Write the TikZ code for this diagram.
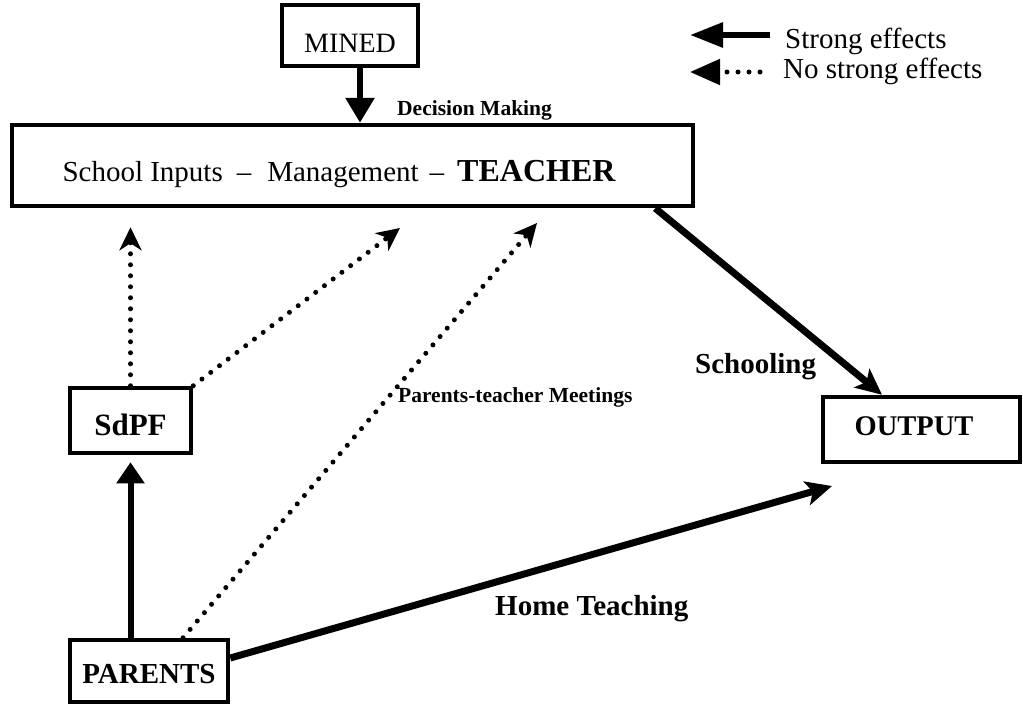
\documentclass[tikz,border=0pt]{standalone}
\usepackage{fontspec}
\setmainfont{Liberation Serif}
\usetikzlibrary{arrows.meta,calc}
\begin{document}
\begin{tikzpicture}[x=1pt,y=-1pt,
  box/.style={draw, rectangle, line width=4.5pt, inner sep=0pt, text height=0pt, text depth=0pt},
  solidarrow/.style={line width=6pt},
  diagarrow/.style={line width=7pt},
  dotline/.style={line width=5pt, line cap=round, dash pattern=on 0pt off 11pt},
  lbl/.style={anchor=base west, inner sep=0pt},
  dothead/.style={-{Stealth[length=23pt,width=22pt,inset=7pt]}}
]
\useasboundingbox (0,0) rectangle (1023,704);

% boxes
\node[box, minimum width=136pt, minimum height=61pt, font=\fontsize{28}{32}\selectfont] (mined) at (350,35.5) {\raisebox{-16.5pt}{MINED}};
\node[box, minimum width=681pt, minimum height=81pt, font=\fontsize{29}{34}\selectfont] (main) at (352.5,165.5) {\hspace*{-27pt}\raisebox{-15.5pt}{School Inputs\hspace{14pt}\textendash\hspace{16pt}Management\hspace{11pt}\textendash\hspace{13pt}{\fontsize{32}{36}\selectfont\bfseries TEACHER}}};
\node[box, minimum width=121pt, minimum height=65pt, font=\fontsize{31}{36}\selectfont\bfseries] (sdpf) at (130.5,420.5) {\raisebox{-14.5pt}{SdPF}};
\node[box, minimum width=197pt, minimum height=65pt, font=\fontsize{28.5}{34}\selectfont\bfseries] (output) at (921.5,429.5) {\hspace*{-15pt}\raisebox{-5.5pt}{OUTPUT}};
\node[box, minimum width=158pt, minimum height=62pt, font=\fontsize{29}{34}\selectfont\bfseries] (parents) at (149,671) {\raisebox{-12pt}{PARENTS}};

% labels
\node[lbl, font=\fontsize{21.5}{24}\selectfont\bfseries] (lbldm) at (397,115) {Decision Making};
\node[lbl, font=\fontsize{21.5}{24}\selectfont\bfseries] (lblpt) at (398,402) {Parents-teacher Meetings};
\node[lbl, font=\fontsize{29}{34}\selectfont\bfseries] (lblsch) at (695,373) {Schooling};
\node[lbl, font=\fontsize{29}{34}\selectfont\bfseries] (lblht) at (495,615) {Home Teaching};

% connectors
\draw[solidarrow, -{Triangle[length=25pt,width=28pt]}] ([xshift=10pt]mined.south) -- ([xshift=10pt]mined.south |- main.north);
\draw[dotline, dothead, shorten >=19pt] (sdpf.north) -- (sdpf.north |- main.south);
\coordinate (tipA) at (400,228);
\draw[dotline, dothead] (sdpf.north east) -- (tipA);
\coordinate (tipB) at (537,223);
\draw[dotline, dothead] ([xshift=34pt]parents.north) -- (tipB);
\draw[solidarrow, -{Triangle[length=21pt,width=27pt]}, shorten >=7pt] (parents.north -| sdpf.south) -- (sdpf.south);
\draw[diagarrow, -{Stealth[length=26pt,width=24pt,inset=6pt]}] ([xshift=-40pt]main.south east) -- ([xshift=-39.5pt]output.north);
\coordinate (tipC) at (832,486);
\draw[diagarrow, -{Stealth[length=26pt,width=24pt,inset=6pt]}] ([yshift=13pt]parents.east) -- (tipC);

% legend
\coordinate (lg1s) at (770,35);
\coordinate (lg1e) at (690,35);
\draw[solidarrow, -{Triangle[length=33pt,width=24pt]}] (lg1s) -- (lg1e);
\coordinate (lg2s) at (760,72);
\coordinate (lg2e) at (690,72);
\draw[dotline, -{Triangle[length=30pt,width=25pt]}] (lg2s) -- (lg2e);
\node[lbl, font=\fontsize{29}{34}\selectfont] (lgt1) at (785,48) {Strong effects};
\node[lbl, font=\fontsize{29}{34}\selectfont] (lgt2) at (783,78) {No strong effects};
\end{tikzpicture}
\end{document}
